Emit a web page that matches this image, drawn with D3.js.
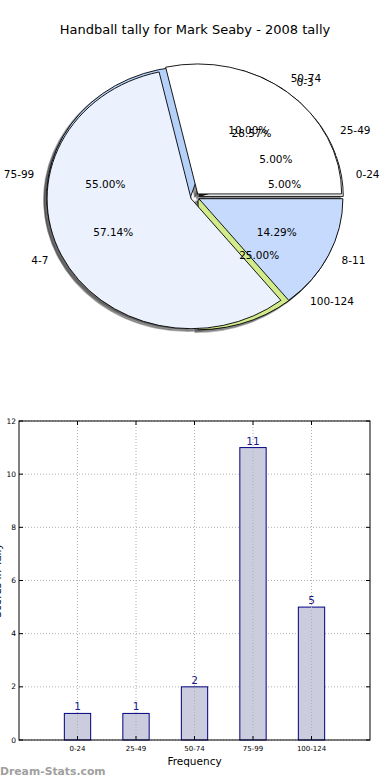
<!DOCTYPE html>
<html>
<head>
<meta charset="utf-8">
<script src="https://cdn.jsdelivr.net/npm/d3@7"></script>
<style>
  body { margin: 0; background: #fff; }
  svg { display: block; font-family: "DejaVu Sans", sans-serif; }
</style>
</head>
<body>
<div id="chart"></div>
<script>
// data
const title = 'Handball tally for Mark Seaby - 2008 tally';
const scoreRanges = ['0-24', '25-49', '50-74', '75-99', '100-124'];
const scoreCounts = [1, 1, 2, 11, 5];
const tallyRanges = ['0-3', '4-7', '8-11'];
const tallyCounts = [2, 4, 1];
const yTicks = [0, 2, 4, 6, 8, 10, 12];

const width = 390, height = 780;
const svg = d3.select('#chart').append('svg')
  .attr('width', width).attr('height', height);

svg.append('text')
  .attr('x', 195).attr('y', 34)
  .attr('text-anchor', 'middle')
  .attr('font-size', 13)
  .text(title);

// ---- pies (matplotlib style: start at east, counter-clockwise, elliptical) ----
const cx = 195, cy = 197, rx = 144, ry = 130;
const explode = 0.03;
const palette = ['#ffffff', '#ebf1fd', '#c6dafd', '#b5d1f8', '#d3ec8b'];

const pie = d3.pie().sort(null).startAngle(Math.PI / 2).endAngle(Math.PI / 2 - 2 * Math.PI);
const arc = d3.arc().innerRadius(0).outerRadius(rx);

function pieParts(labels, counts) {
  const total = d3.sum(counts);
  return pie(counts).map((d, i) => {
    const mid = (d.startAngle + d.endAngle) / 2; // d3 angle, 0 = up, clockwise
    const ux = Math.sin(mid), uy = -Math.cos(mid);
    return {
      d, label: labels[i], color: palette[i],
      pct: (100 * counts[i] / total).toFixed(2) + '%',
      ox: explode * rx * ux, oy: explode * ry * uy, ux, uy
    };
  });
}
const scoreParts = pieParts(scoreRanges, scoreCounts);
const tallyParts = pieParts(tallyRanges, tallyCounts);

const pieG = svg.append('g');

function wedge(p, dx, dy) {
  return pieG.append('path')
    .attr('d', arc(p.d))
    .attr('transform', `translate(${cx + p.ox + dx},${cy + p.oy + dy}) scale(1,${ry / rx})`)
    .attr('vector-effect', 'non-scaling-stroke');
}

// shadows first (lower z-order), then both pies
[...scoreParts, ...tallyParts].forEach(p => {
  wedge(p, -0.02 * rx, 0.02 * ry)
    .attr('fill', '#444').attr('fill-opacity', 0.55)
    .attr('stroke', '#444').attr('stroke-opacity', 0.4).attr('stroke-width', 1.5);
});
[...scoreParts, ...tallyParts].forEach(p => {
  wedge(p, 0, 0).attr('fill', p.color).attr('stroke', '#000').attr('stroke-width', 0.9);
});

// texts on top of all wedges
[...scoreParts, ...tallyParts].forEach(p => {
  const lx = cx + p.ox + 1.1 * rx * p.ux;
  const ly = cy + p.oy + 1.1 * ry * p.uy;
  svg.append('text')
    .attr('x', lx).attr('y', ly)
    .attr('dy', '0.35em')
    .attr('text-anchor', p.ux > 0 ? 'start' : 'end')
    .attr('font-size', 10.5)
    .text(p.label);
  svg.append('text')
    .attr('x', cx + p.ox + 0.6 * rx * p.ux)
    .attr('y', cy + p.oy + 0.6 * ry * p.uy)
    .attr('dy', '0.35em')
    .attr('text-anchor', 'middle')
    .attr('font-size', 10.5)
    .text(p.pct);
});

// ---- bar chart ----
const plotL = 19, plotR = 370, plotT = 421, plotB = 740;
const x = d3.scaleLinear().domain([-1, scoreRanges.length]).range([plotL, plotR]);
const y = d3.scaleLinear().domain([0, 12]).range([plotB, plotT]);
const barW = 0.45;

const grid = svg.append('g')
  .attr('stroke', '#b0b0b0').attr('stroke-dasharray', '1,2').attr('stroke-width', 1);
yTicks.forEach(t => {
  grid.append('line').attr('x1', plotL).attr('x2', plotR).attr('y1', y(t)).attr('y2', y(t));
});

svg.append('g').selectAll('rect')
  .data(scoreCounts)
  .join('rect')
  .attr('x', (d, i) => x(i - barW / 2))
  .attr('y', d => y(d))
  .attr('width', x(barW) - x(0))
  .attr('height', d => y(0) - y(d))
  .attr('fill', '#ccccdf')
  .attr('stroke', '#000080')
  .attr('stroke-width', 1);

const vgrid = svg.append('g')
  .attr('stroke', '#b0b0b0').attr('stroke-dasharray', '1,2').attr('stroke-width', 1);
scoreRanges.forEach((c, i) => {
  vgrid.append('line').attr('x1', x(i)).attr('x2', x(i)).attr('y1', plotT).attr('y2', plotB);
});

svg.append('g').selectAll('text')
  .data(scoreCounts)
  .join('text')
  .attr('x', (d, i) => x(i))
  .attr('y', d => y(d) - 3)
  .attr('text-anchor', 'middle')
  .attr('font-size', 10.5)
  .attr('fill', '#1a1a8a')
  .text(d => d);

svg.append('rect')
  .attr('x', plotL).attr('y', plotT)
  .attr('width', plotR - plotL).attr('height', plotB - plotT)
  .attr('fill', 'none').attr('stroke', '#000').attr('stroke-width', 1);

// y ticks
const yAxis = svg.append('g');
yTicks.forEach(t => {
  yAxis.append('line').attr('x1', plotL).attr('x2', plotL + 4).attr('y1', y(t)).attr('y2', y(t)).attr('stroke', '#000');
  yAxis.append('line').attr('x1', plotR - 4).attr('x2', plotR).attr('y1', y(t)).attr('y2', y(t)).attr('stroke', '#000');
  yAxis.append('text')
    .attr('x', plotL - 3).attr('y', y(t)).attr('dy', '0.35em')
    .attr('text-anchor', 'end').attr('font-size', 7.5)
    .text(t);
});

// x ticks
const xAxis = svg.append('g');
scoreRanges.forEach((c, i) => {
  xAxis.append('line').attr('x1', x(i)).attr('x2', x(i)).attr('y1', plotB).attr('y2', plotB - 4).attr('stroke', '#000');
  xAxis.append('line').attr('x1', x(i)).attr('x2', x(i)).attr('y1', plotT).attr('y2', plotT + 4).attr('stroke', '#000');
  xAxis.append('text')
    .attr('x', x(i)).attr('y', plotB + 11)
    .attr('text-anchor', 'middle').attr('font-size', 7)
    .text(c);
});

svg.append('text')
  .attr('x', (plotL + plotR) / 2).attr('y', 765)
  .attr('text-anchor', 'middle').attr('font-size', 10.5)
  .text('Frequency');

// y label sits mostly outside the page, as in the reference
svg.append('text')
  .attr('transform', `translate(1,${(plotT + plotB) / 2}) rotate(-90)`)
  .attr('text-anchor', 'middle').attr('font-size', 10.5)
  .text('Scores in Tally');

svg.append('text')
  .attr('x', 0).attr('y', 775)
  .attr('font-size', 10.8).attr('font-weight', 'bold')
  .attr('fill', '#a0a0a0')
  .text('Dream-Stats.com');
</script>
</body>
</html>
